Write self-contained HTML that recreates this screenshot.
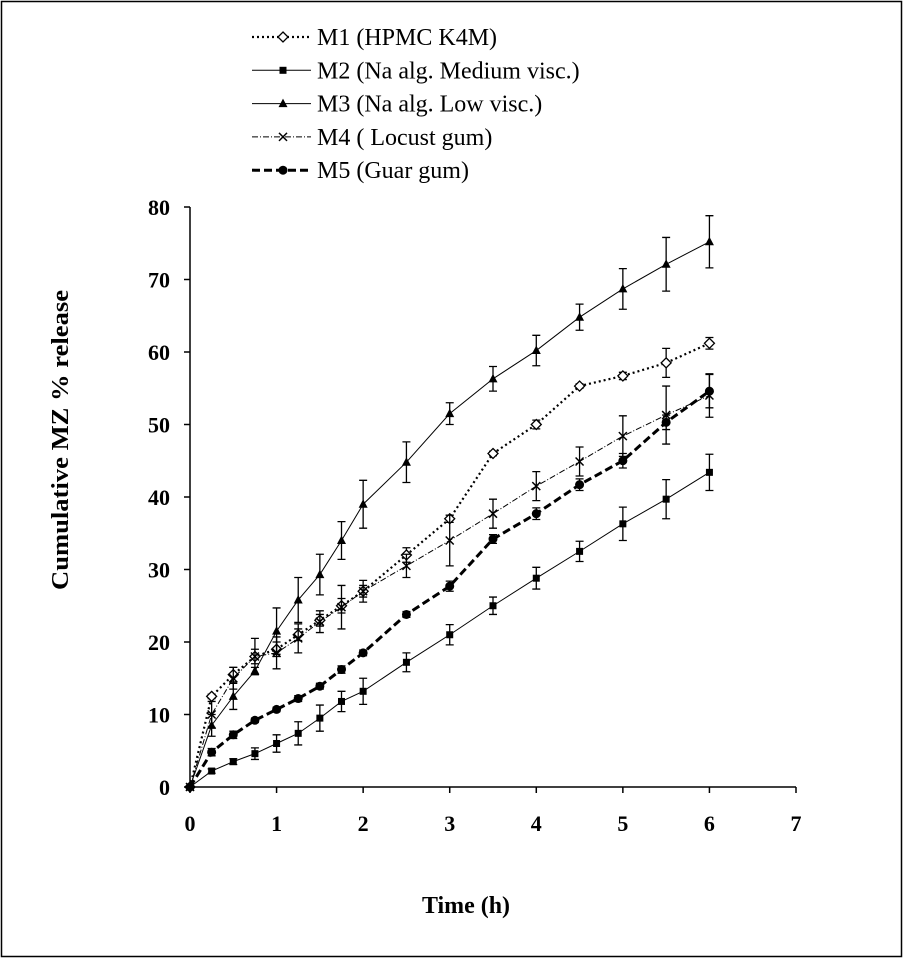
<!DOCTYPE html>
<html><head><meta charset="utf-8"><style>
body{margin:0;background:#fff}
svg text{font-family:"Liberation Serif",serif}
</style></head><body>
<svg id="chart" width="903" height="958" xmlns="http://www.w3.org/2000/svg">
<rect x="1.5" y="1.5" width="900" height="955" fill="#fff" stroke="#000" stroke-width="1.5"/>
<g id="axes"></g><g id="series"></g><g id="legend"></g>
<text x="466" y="913" text-anchor="middle" font-size="24" font-weight="bold" textLength="88" lengthAdjust="spacingAndGlyphs">Time (h)</text>
<text transform="translate(68,440) rotate(-90)" text-anchor="middle" font-size="24" font-weight="bold" textLength="300" lengthAdjust="spacingAndGlyphs">Cumulative MZ % release</text>
</svg>
<script>
const times=[0,0.25,0.5,0.75,1,1.25,1.5,1.75,2,2.5,3,3.5,4,4.5,5,5.5,6];
const m1=[0,12.5,15.5,18,19,21,23,25,27,32,37,46,50,55.3,56.7,58.5,61.2];
const m1Err=[0,0.3,1,1,1,0.8,0.8,1,0.8,1,0.5,0.3,0.6,0.3,0.5,2,0.8];
const m2=[0,2.2,3.5,4.6,6,7.4,9.5,11.8,13.2,17.2,21,25,28.8,32.5,36.3,39.7,43.4];
const m2Err=[0,0.3,0.4,0.8,1.2,1.6,1.8,1.4,1.8,1.3,1.4,1.2,1.5,1.4,2.3,2.7,2.5];
const m3=[0,8.5,12.5,16,21.5,25.8,29.3,34,39,44.8,51.5,56.3,60.2,64.8,68.7,72.1,75.2];
const m3Err=[0,1.5,1.8,0.5,3.2,3.1,2.8,2.6,3.3,2.8,1.5,1.7,2.1,1.8,2.8,3.7,3.6];
const m4=[0,10,15,18,18.5,20.5,22.8,24.8,27,30.5,34,37.7,41.5,44.9,48.4,51.3,54];
const m4Err=[0,1.8,1.5,2.5,2.2,2,1.5,3,1.5,1.6,3.5,2,2,2,2.8,4,3];
const m5=[0,4.8,7.2,9.2,10.7,12.2,13.9,16.2,18.5,23.8,27.7,34.2,37.7,41.7,45,50.3,54.6];
const m5Err=[0,0.5,0.5,0.3,0.3,0.4,0.4,0.5,0.4,0.4,0.7,0.6,0.8,0.8,1,1,2.3];
const xTicks=[0,1,2,3,4,5,6,7];
const yTicks=[0,10,20,30,40,50,60,70,80];
const seriesNames=["M1 (HPMC K4M)","M2 (Na alg. Medium visc.)","M3 (Na alg. Low visc.)","M4 ( Locust gum)","M5 (Guar gum)"];

const NS="http://www.w3.org/2000/svg";
const X=v=>190+v*(796-190)/7;
const Y=v=>787-v*(787-207)/80;
function mk(tag,attrs,parent){const e=document.createElementNS(NS,tag);for(const k in attrs)e.setAttribute(k,attrs[k]);parent.appendChild(e);return e;}
const axes=document.getElementById('axes');
let l=mk('line',{x1:X(0),y1:Y(0),x2:X(7),y2:Y(0),stroke:'#000','stroke-width':1.5},axes);


l=mk('line',{x1:X(0),y1:Y(0),x2:X(0),y2:Y(80),stroke:'#000','stroke-width':1.5},axes);


xTicks.forEach(t=>{
  const tk=mk('line',{x1:X(t),y1:Y(0),x2:X(t),y2:Y(0)+6,stroke:'#000','stroke-width':1.5},axes);
  
  
  const tx=mk('text',{x:X(t),y:Y(0)+44,'text-anchor':'middle','font-size':22,'font-weight':'bold'},axes);
  tx.textContent=t;
  
  
});
yTicks.forEach(t=>{
  const tk=mk('line',{x1:X(0)-6,y1:Y(t),x2:X(0),y2:Y(t),stroke:'#000','stroke-width':1.5},axes);
  
  
  const tx=mk('text',{x:X(0)-20,y:Y(t)+8,'text-anchor':'end','font-size':22,'font-weight':'bold'},axes);
  tx.textContent=t;
  
  
});
const styles=[
 {vals:m1,err:m1Err,dash:'2,3',w:2.2,mark:'diamond'},
 {vals:m2,err:m2Err,dash:'',w:1,mark:'square'},
 {vals:m3,err:m3Err,dash:'',w:1,mark:'triangle'},
 {vals:m4,err:m4Err,dash:'6,2,1,2',w:1,mark:'cross'},
 {vals:m5,err:m5Err,dash:'8,4',w:3,mark:'circle'}];
function marker(type,x,y,g){
  if(type==='diamond')return mk('path',{d:`M${x},${y-5}L${x+5},${y}L${x},${y+5}L${x-5},${y}Z`,fill:'#fff',stroke:'#000','stroke-width':1.3},g);
  if(type==='square')return mk('rect',{x:x-3.5,y:y-3.5,width:7,height:7,fill:'#000'},g);
  if(type==='triangle')return mk('path',{d:`M${x},${y-5}L${x+4.5},${y+3.5}L${x-4.5},${y+3.5}Z`,fill:'#000'},g);
  if(type==='cross')return mk('path',{d:`M${x-4},${y-4}L${x+4},${y+4}M${x-4},${y+4}L${x+4},${y-4}`,stroke:'#000','stroke-width':1.5},g);
  return mk('circle',{cx:x,cy:y,r:4.5,fill:'#000'},g);
}
const sg=document.getElementById('series');
styles.forEach((s,i)=>{
  const g=mk('g',{},sg);
  
  
  times.forEach((t,j)=>{
    if(!s.err[j])return;
    const x=X(t),y1=Y(s.vals[j]-s.err[j]),y2=Y(s.vals[j]+s.err[j]);
    const e=mk('path',{d:`M${x},${y1}L${x},${y2}M${x-4},${y1}L${x+4},${y1}M${x-4},${y2}L${x+4},${y2}`,stroke:'#000','stroke-width':1.3,fill:'none'},g);
    
    
  });
  const p=mk('polyline',{points:times.map((t,j)=>X(t)+','+Y(s.vals[j])).join(' '),fill:'none',stroke:'#000','stroke-width':s.w,'stroke-dasharray':s.dash},g);
  
  
  times.forEach((t,j)=>{
    const m=marker(s.mark,X(t),Y(s.vals[j]),g);
    
    
  });
});
const lg=document.getElementById('legend');
seriesNames.forEach((n,i)=>{
  const y=37+i*33.3,s=styles[i];
  const g=mk('g',{},lg);
  
  
  mk('line',{x1:252,y1:y,x2:311,y2:y,stroke:'#000','stroke-width':s.w,'stroke-dasharray':s.dash},g);
  marker(s.mark,283,y,g);
  const t=mk('text',{x:317,y:y+8,'font-size':24},g);
  t.textContent=n;
});
</script>
</body></html>
